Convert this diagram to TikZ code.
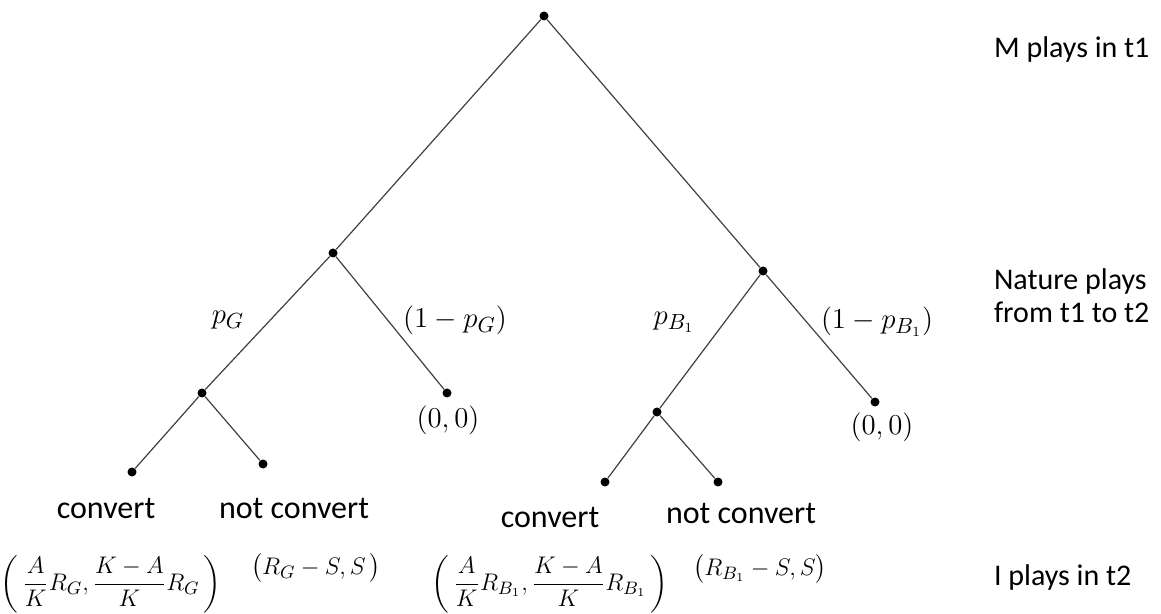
\documentclass[tikz,border=0pt]{standalone}
\usepackage{fontspec}
\setmainfont{Carlito}
\usepackage{amsmath}
\usetikzlibrary{positioning}
\tikzstyle{branch}=[line width=0.6pt, color=black!75]

\begin{document}
\begin{tikzpicture}[x=0.5pt, y=-0.5pt,
  dot/.style={circle, fill=black, inner sep=0pt, minimum size=4.5pt},
  act/.style={inner sep=1pt, font=\fontsize{16}{18}\selectfont},
  pay/.style={inner sep=1pt, font=\fontsize{13}{15}\selectfont},
  prob/.style={font=\fontsize{15}{17}\selectfont},
  stage/.style={anchor=west, align=left, font=\fontsize{15}{16.5}\selectfont}
]
\useasboundingbox (0,0) rectangle (1161,614);
% decision points
\node[dot] (root) at (544,16)  {};
\node[dot] (natG) at (333,253) {};
\node[dot] (natB) at (763,271) {};
\node[dot] (invG) at (202,393) {};
\node[dot] (zeroG) at (447,393) {};
\node[dot] (invB) at (657,412) {};
\node[dot] (zeroB) at (875,402) {};
\node[dot] (convG) at (132,472) {};
\node[dot] (keepG) at (263,464) {};
\node[dot] (convB) at (605,482) {};
\node[dot] (keepB) at (718,482) {};

\draw[branch] (root) -- (natG);
\draw[branch] (root) -- (natB);
\draw[branch] (natG) -- (invG);
\draw[branch] (natG) -- (zeroG);
\draw[branch] (natB) -- (invB);
\draw[branch] (natB) -- (zeroB);
\draw[branch] (invG) -- (convG);
\draw[branch] (invG) -- (keepG);
\draw[branch] (invB) -- (convB);
\draw[branch] (invB) -- (keepB);

% probabilities
\node[prob] (pG)  at (228,320) {$p_G$};
\node[prob] (qG)  at (455,320) {$(1-p_G)$};
\node[prob] (pB)  at (674,322) {$p_{B_1}$};
\node[prob] (qB)  at (877,322) {$(1-p_{B_1})$};

% actions and payoffs
\node[act] (convGtxt) at (106,508) {convert};
\node[act] (keepGtxt) at (294,508) {not convert};
\node[act] (convBtxt) at (550,517) {convert};
\node[act] (keepBtxt) at (741,513) {not convert};
\node[prob] (zeroGtxt) at (448,420) {$(0,0)$};
\node[prob] (zeroBtxt) at (882,427) {$(0,0)$};
\node[pay] (payGc) at (111,584) {$\left(\,\dfrac{A}{K}R_G,\dfrac{K-A}{K}R_G\,\right)$};
\node[pay] (payGk) at (316,568) {$\bigl(R_G-S,S\,\bigr)$};
\node[pay] (payBc) at (550,584) {$\left(\,\dfrac{A}{K}R_{B_1},\dfrac{K-A}{K}R_{B_1}\,\right)$};
\node[pay] (payBk) at (760,569) {$\bigl(R_{B_1}-S,S\bigr)$};

% stages
\node[stage] (stM) at (987,50)  {M plays in t1};
\node[stage] (stN) at (987,296) {Nature plays\\from t1 to t2};
\node[stage] (stI) at (987,577) {I plays in t2};
\end{tikzpicture}
\end{document}
